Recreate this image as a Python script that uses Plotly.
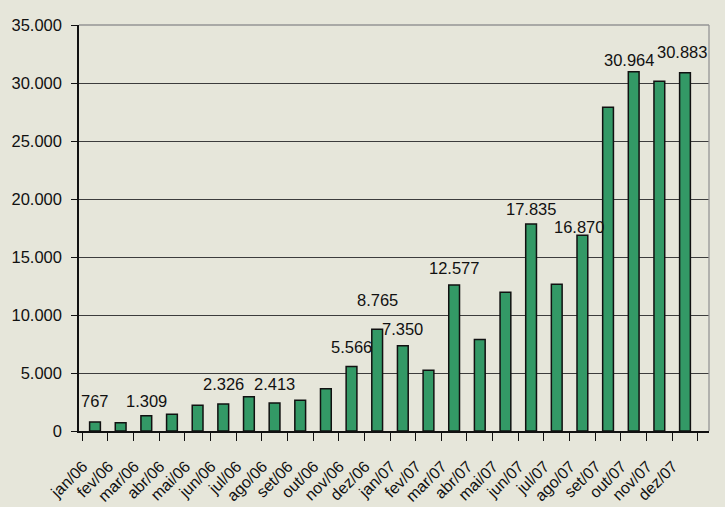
import plotly.graph_objects as go

months = ["jan/06", "fev/06", "mar/06", "abr/06", "mai/06", "jun/06", "jul/06", "ago/06",
          "set/06", "out/06", "nov/06", "dez/06", "jan/07", "fev/07", "mar/07", "abr/07",
          "mai/07", "jun/07", "jul/07", "ago/07", "set/07", "out/07", "nov/07", "dez/07"]
values = [767, 720, 1309, 1450, 2230, 2326, 2950, 2413,
          2650, 3650, 5566, 8765, 7350, 5230, 12577, 7880,
          11960, 17835, 12650, 16870, 27900, 30964, 30150, 30883]

label_months = ["jan/06", "mar/06", "jun/06", "ago/06", "nov/06", "dez/06", "jan/07",
                "mar/07", "jun/07", "ago/07", "out/07", "dez/07"]
label_texts = ["767", "1.309", "2.326", "2.413", "5.566", "8.765", "7.350",
               "12.577", "17.835", "16.870", "30.964", "30.883"]
label_yshift = [10, 4, 9, 8, 8, 18, 6, 6, 4, -3, 1, 10]
label_xshift = [0, 0, 0, 0, 0, 0, 0, 0, 0, -3, -5, -3]

y_ticks = [0, 5000, 10000, 15000, 20000, 25000, 30000, 35000]

FONT = "Liberation Sans, Arial, sans-serif"
BG = "#E6E6DA"

fig = go.Figure()
fig.add_trace(go.Bar(
    x=months, y=values,
    marker=dict(color="#339966", line=dict(color="#111111", width=1.5)),
    hoverinfo="x+y",
))

for m, t, ys, xs in zip(label_months, label_texts, label_yshift, label_xshift):
    y = values[months.index(m)]
    fig.add_annotation(x=m, y=y, text=t, showarrow=False, yanchor="bottom",
                       yshift=ys, xshift=xs,
                       font=dict(family=FONT, size=16.5, color="#111111"))

# light gray frame on the top and right sides of the plot area
fig.add_shape(type="line", xref="paper", yref="paper", x0=1, x1=1, y0=0, y1=1,
              line=dict(color="#959595", width=1.3))
fig.add_shape(type="line", xref="paper", yref="paper", x0=0, x1=1, y0=1, y1=1,
              line=dict(color="#959595", width=1.6))

fig.update_layout(
    width=725, height=507,
    margin=dict(l=79, r=16, t=25, b=76),
    paper_bgcolor=BG, plot_bgcolor=BG,
    separators=",.",
    bargap=0.58,
    showlegend=False,
    font=dict(family=FONT, size=16.5, color="#111111"),
    xaxis=dict(
        type="category", tickson="boundaries", ticks="outside", ticklen=8,
        tickcolor="#111111", tickwidth=1.3, tickangle=-45,
        ticklabelstandoff=18, ticklabelshift=-12, automargin=False,
        showline=True, linecolor="#111111", linewidth=1.5,
        showgrid=False, tickfont=dict(size=16),
    ),
    yaxis=dict(
        range=[0, 35000], tickvals=y_ticks, tickformat=",d",
        ticks="outside", ticklen=6, tickcolor="#111111", tickwidth=1.3,
        ticklabelstandoff=6, automargin=False,
        showline=True, linecolor="#111111", linewidth=1.5,
        showgrid=True, gridcolor="#3c3c3c", gridwidth=1.3, zeroline=False,
        tickfont=dict(size=16.5),
    ),
)

fig.write_html("out.html", config={"displayModeBar": False},
               post_script="document.body.style.margin='0';document.body.style.background='" + BG + "';")
